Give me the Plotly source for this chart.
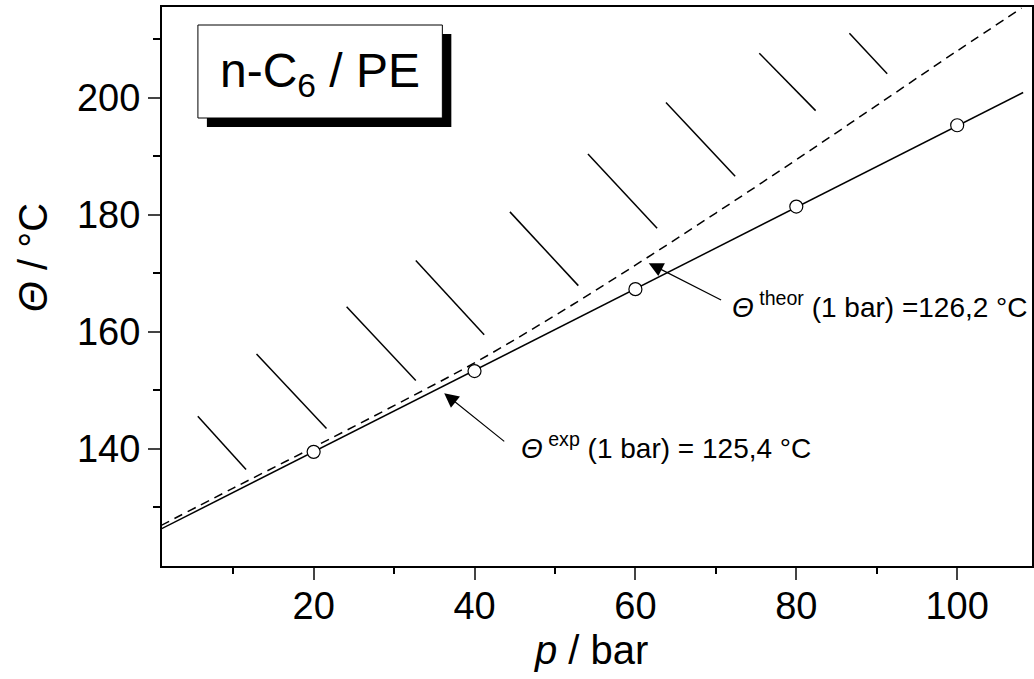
import plotly.graph_objects as go

# experimental cloud points
p_exp = [20, 40, 60, 80, 100]
theta_exp = [139.5, 153.3, 167.3, 181.4, 195.3]

# linear fit through experimental points
p_fit = [1, 108.2]
theta_fit = [126.3, 200.9]

# theoretical curve (dashed)
p_theor = [1, 10, 20, 30, 40, 50, 60, 70, 80, 90, 100, 108]
theta_theor = [126.9, 133.3, 140.3, 147.4, 154.7, 162.8, 171.4, 180.3, 189.4, 198.7, 208.0, 215.3]

# hatch marks (two-phase region)
hatch_p0 = [5.6, 12.9, 24.1, 32.7, 44.4, 54.1, 63.8, 75.4, 86.6]
hatch_t0 = [145.6, 156.2, 164.3, 172.2, 180.5, 190.4, 199.2, 207.6, 211.0]
hatch_p1 = [11.6, 21.6, 32.7, 41.2, 52.9, 62.7, 72.4, 82.4, 91.3]
hatch_t1 = [136.5, 143.5, 151.7, 159.5, 167.9, 177.7, 186.6, 197.8, 204.1]

x_ticks = [20, 40, 60, 80, 100]
y_ticks = [140, 160, 180, 200]

FONT = "Arial, Liberation Sans, sans-serif"

hx, hy = [], []
for a, b, c, d in zip(hatch_p0, hatch_t0, hatch_p1, hatch_t1):
    hx += [a, c, None]
    hy += [b, d, None]

fig = go.Figure()
fig.add_trace(go.Scatter(x=hx, y=hy, mode="lines",
                         line=dict(color="black", width=1.5), hoverinfo="skip"))
fig.add_trace(go.Scatter(x=p_theor, y=theta_theor, mode="lines", line_shape="spline",
                         line=dict(color="black", width=1.5, dash="9px,6px")))
fig.add_trace(go.Scatter(x=p_fit, y=theta_fit, mode="lines",
                         line=dict(color="black", width=1.5)))
fig.add_trace(go.Scatter(x=p_exp, y=theta_exp, mode="markers",
                         marker=dict(symbol="circle", size=13, color="white",
                                     line=dict(color="black", width=1.2))))

W, H = 1034, 679
L, R, T, B = 162, 0, 7, 113
pw, ph = W - L - R, H - T - B

def px(xp):
    return (xp - L) / pw

def py(yp):
    return (H - B - yp) / ph

fig.update_layout(
    width=W, height=H,
    margin=dict(l=L, r=R, t=T, b=B),
    paper_bgcolor="white", plot_bgcolor="white",
    showlegend=False,
    font=dict(family=FONT, color="black", size=38),
    xaxis=dict(range=[1.15, 109.3], tickvals=x_ticks, ticks="outside", ticklen=12,
               tickwidth=2, linewidth=2, linecolor="black", mirror=True,
               showgrid=False, zeroline=False, tickfont=dict(size=38),
               ticklabelstandoff=-7,
               minor=dict(tickvals=[10, 30, 50, 70, 90], ticks="outside", ticklen=6,
                          tickwidth=2, tickcolor="black", showgrid=False)),
    yaxis=dict(range=[120, 215.5], tickvals=y_ticks, ticks="outside", ticklen=12,
               tickwidth=2, linewidth=2, linecolor="black", mirror=True,
               showgrid=False, zeroline=False, tickfont=dict(size=38),
               ticklabelstandoff=0,
               minor=dict(tickvals=[130, 150, 170, 190, 210], ticks="outside", ticklen=7,
                          tickwidth=2, tickcolor="black", showgrid=False)),
)

# title box with shadow
fig.add_shape(type="rect", xref="paper", yref="paper",
              x0=px(207), x1=px(452), y0=py(127), y1=py(34),
              fillcolor="black", line=dict(width=0), layer="above")
fig.add_shape(type="rect", xref="paper", yref="paper",
              x0=px(198), x1=px(443), y0=py(118), y1=py(25),
              fillcolor="white", line=dict(color="black", width=1), layer="above")
fig.add_annotation(xref="paper", yref="paper", x=px(320), y=py(74),
                   text="n-C<sub>6</sub> / PE", showarrow=False,
                   font=dict(size=48), xanchor="center", yanchor="middle")

# axis titles
fig.add_annotation(xref="paper", yref="paper", x=px(592), y=py(650),
                   text="<i>p</i> / bar", showarrow=False, font=dict(size=40),
                   xanchor="center", yanchor="middle")
fig.add_annotation(xref="paper", yref="paper", x=px(33), y=py(258),
                   text="<i>Θ</i> / °C", showarrow=False, font=dict(size=40),
                   textangle=-90, xanchor="center", yanchor="middle")

# arrows
fig.add_annotation(x=61.66, y=171.74, ax=70.84, ay=165.3, xref="x", yref="y",
                   axref="x", ayref="y", text="", showarrow=True,
                   arrowhead=2, arrowsize=2.4, arrowwidth=1.2, arrowcolor="black")
fig.add_annotation(x=36.23, y=149.52, ax=43.88, ay=141.08, xref="x", yref="y",
                   axref="x", ayref="y", text="", showarrow=True,
                   arrowhead=2, arrowsize=2.4, arrowwidth=1.2, arrowcolor="black")

fig.add_annotation(x=71.8, y=164.6, xref="x", yref="y",
                   text="<i>Θ</i><sup> theor</sup> (1 bar) =126,2 °C",
                   showarrow=False, font=dict(size=28), xanchor="left", yanchor="middle")
fig.add_annotation(x=45.5, y=140.5, xref="x", yref="y",
                   text="<i>Θ</i><sup> exp</sup> (1 bar) = 125,4 °C",
                   showarrow=False, font=dict(size=28), xanchor="left", yanchor="middle")

fig.write_html("out.html")
